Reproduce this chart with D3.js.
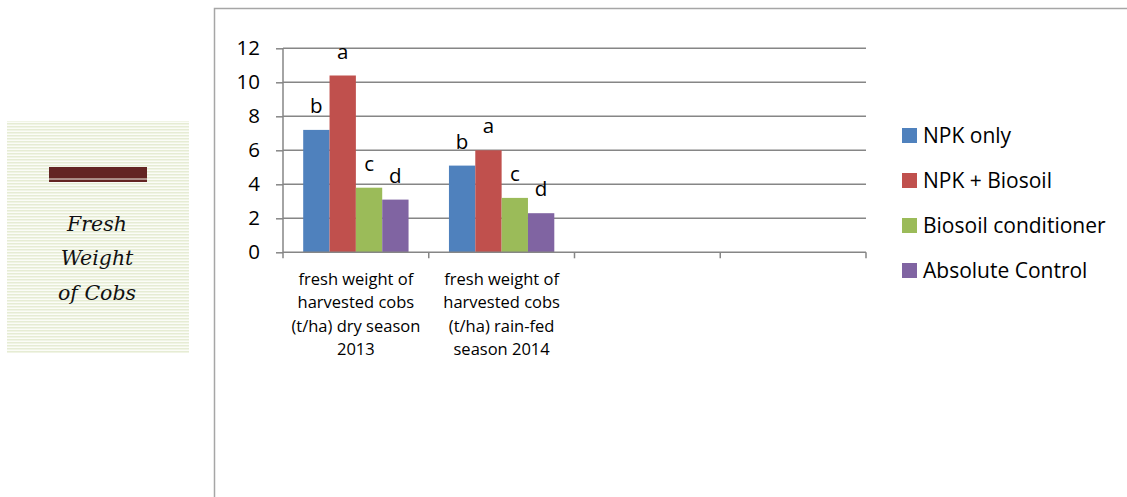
<!DOCTYPE html>
<html>
<head>
<meta charset="utf-8">
<script src="https://cdn.jsdelivr.net/npm/d3@7"></script>
<style>
  html, body { margin: 0; padding: 0; background: #fff; }
  svg { display: block; }
</style>
</head>
<body>
<svg id="chart" width="1127" height="497"></svg>
<script>
// Categories (the chart reserves four slots; two are empty)
const categories = [
  "fresh weight of|harvested cobs|(t/ha) dry season|2013",
  "fresh weight of|harvested cobs|(t/ha) rain-fed|season 2014",
  " ",
  "  "
];
const seriesNames = ["NPK only", "NPK + Biosoil", "Biosoil conditioner", "Absolute Control"];
const seriesColors = ["#4f81bd", "#c0504d", "#9bbb59", "#8064a2"];
// Fresh weight of cobs (t/ha), one array per treatment, per season
const npkOnly = [7.2, 5.1];
const npkBiosoil = [10.4, 6.0];
const biosoilConditioner = [3.8, 3.2];
const absoluteControl = [3.1, 2.3];
// Mean separation letters
const letters1 = ["b", "a", "c", "d"];
const letters2 = ["b", "a", "c", "d"];
const yTicks = [0, 2, 4, 6, 8, 10, 12];

const seriesValues = [npkOnly, npkBiosoil, biosoilConditioner, absoluteControl];
const letterSets = [letters1, letters2];

const svg = d3.select("#chart");
const font = "'Open Sans', sans-serif";

// ---- Side panel with striped background ----
const defs = svg.append("defs");
const pat = defs.append("pattern")
  .attr("id", "stripes").attr("patternUnits", "userSpaceOnUse")
  .attr("width", 4).attr("height", 3);
pat.append("rect").attr("width", 4).attr("height", 3).attr("fill", "#fbfcf7");
pat.append("rect").attr("width", 4).attr("height", 1.5).attr("fill", "#e6ecd4");

svg.append("rect").attr("x", 7).attr("y", 121).attr("width", 182).attr("height", 232)
  .attr("fill", "url(#stripes)");
svg.append("rect").attr("x", 49).attr("y", 167).attr("width", 98).attr("height", 11.5)
  .attr("fill", "#632523");
svg.append("rect").attr("x", 49).attr("y", 179.5).attr("width", 98).attr("height", 2.5)
  .attr("fill", "#632523");
const sideLines = ["Fresh", "Weight", "of Cobs"];
svg.append("g").selectAll("text").data(sideLines).join("text")
  .attr("x", 97).attr("y", (d, i) => 230.5 + i * 34.5)
  .attr("text-anchor", "middle")
  .style("font-family", "'DejaVu Serif', serif")
  .style("font-style", "italic")
  .style("font-size", "20.5px")
  .attr("fill", "#111")
  .text(d => d);

// ---- Chart frame ----
svg.append("path").attr("d", "M214.5,497 V8.5 H1127")
  .attr("fill", "none").attr("stroke", "#a6a6a6").attr("stroke-width", 1.5);

// ---- Scales ----
const x0 = d3.scaleBand().domain(categories).range([283, 866]).paddingInner(0).paddingOuter(0);
const groupPad = 20.2;
const x1 = d3.scaleBand().domain(seriesNames)
  .range([groupPad, x0.bandwidth() - groupPad]).padding(0);
const y = d3.scaleLinear().domain([0, 12]).range([252.3, 48.3]);

// Gridlines and y ticks
const yAxis = d3.axisLeft(y).tickValues(yTicks).tickSize(7).tickPadding(16).tickFormat(d3.format("d"));
const yg = svg.append("g").attr("transform", "translate(283,0)").call(yAxis);
yg.select(".domain").remove();
yg.selectAll(".tick line").attr("stroke", "#868686").attr("stroke-width", 1.5);
yg.selectAll(".tick text")
  .style("font-family", font).style("font-size", "20.5px").attr("fill", "#000");
svg.append("g").selectAll("line").data(yTicks.filter(t => t > 0)).join("line")
  .attr("x1", 283).attr("x2", 866)
  .attr("y1", d => y(d)).attr("y2", d => y(d))
  .attr("stroke", "#868686").attr("stroke-width", 1.5);

// y axis line
svg.append("line").attr("x1", 283).attr("x2", 283).attr("y1", y(12)).attr("y2", y(0))
  .attr("stroke", "#868686").attr("stroke-width", 1.5);

// Bars
const groups = svg.append("g").selectAll("g")
  .data(categories.slice(0, 2)).join("g")
  .attr("transform", d => `translate(${x0(d)},0)`);
groups.selectAll("rect")
  .data((d, ci) => seriesNames.map((s, si) => ({ s, si, v: seriesValues[si][ci] })))
  .join("rect")
  .attr("x", d => x1(d.s))
  .attr("width", x1.bandwidth())
  .attr("y", d => y(d.v))
  .attr("height", d => y(0) - y(d.v))
  .attr("fill", d => seriesColors[d.si]);
groups.selectAll("text.letter")
  .data((d, ci) => seriesNames.map((s, si) => ({ s, v: seriesValues[si][ci], l: letterSets[ci][si] })))
  .join("text").attr("class", "letter")
  .attr("x", d => x1(d.s) + x1.bandwidth() / 2)
  .attr("y", d => y(d.v) - 17)
  .attr("text-anchor", "middle")
  .style("font-family", font).style("font-size", "20.5px").attr("fill", "#000")
  .text(d => d.l);

// x axis line and category ticks
svg.append("line").attr("x1", 283).attr("x2", 866).attr("y1", y(0)).attr("y2", y(0))
  .attr("stroke", "#868686").attr("stroke-width", 1.5);
const bounds = categories.map(c => x0(c)).concat([x0.range()[1]]);
svg.append("g").selectAll("line").data(bounds).join("line")
  .attr("x1", d => d).attr("x2", d => d)
  .attr("y1", y(0)).attr("y2", y(0) + 6)
  .attr("stroke", "#868686").attr("stroke-width", 1.5);

// Category labels
svg.append("g").selectAll("text").data(categories).join("text")
  .attr("x", d => x0(d) + x0.bandwidth() / 2)
  .attr("y", 285)
  .attr("text-anchor", "middle")
  .style("font-family", font).style("font-size", "16.5px").attr("fill", "#000")
  .each(function (d) {
    const lines = d.trim() ? d.split("|") : [];
    d3.select(this).selectAll("tspan").data(lines).join("tspan")
      .attr("x", x0(d) + x0.bandwidth() / 2)
      .attr("dy", (l, i) => i === 0 ? 0 : 23.3)
      .text(l => l);
  });

// Legend
const legend = svg.append("g").selectAll("g").data(seriesNames).join("g")
  .attr("transform", (d, i) => `translate(902,${135 + i * 45})`);
legend.append("rect").attr("x", 0).attr("y", -7).attr("width", 15).attr("height", 15)
  .attr("fill", (d, i) => seriesColors[i]);
legend.append("text").attr("x", 21).attr("y", 7.5)
  .style("font-family", font).style("font-size", "21px").attr("fill", "#000")
  .text(d => d);
</script>
</body>
</html>
